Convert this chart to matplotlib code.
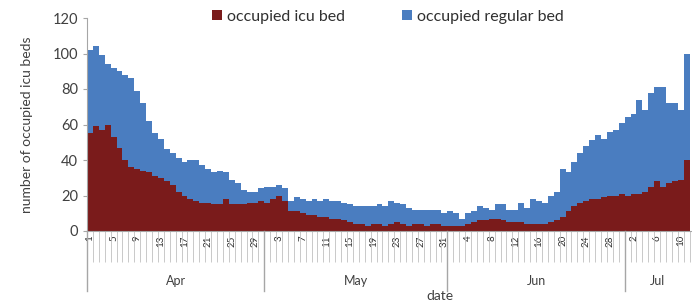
import numpy as np
import pandas as pd
import matplotlib
matplotlib.use('Agg')
import matplotlib.pyplot as plt
import matplotlib.transforms as mtransforms

plt.rcParams['font.family'] = ['Lato', 'DejaVu Sans']

# daily values, 1 Apr -> 11 Jul
dates = pd.date_range('2020-04-01', '2020-07-11', freq='D')

icu = [55, 59, 57, 60, 53, 47, 40, 36, 35, 34, 33, 31, 30, 28, 26, 22, 20, 18, 17, 16,
       16, 15, 15, 18, 15, 15, 15, 16, 16, 17,
       16, 18, 20, 17, 11, 11, 10, 9, 9, 8, 8, 7, 7, 6, 5, 4, 4, 3, 4, 4,
       3, 4, 5, 4, 3, 4, 4, 3, 4, 4, 3,
       3, 3, 3, 4, 5, 6, 6, 7, 7, 6, 5, 5, 5, 4, 4, 4, 4, 5, 6, 8,
       11, 14, 16, 17, 18, 18, 19, 20, 20, 21,
       20, 21, 21, 22, 25, 28, 25, 27, 28, 29, 40]

regular = [47, 45, 42, 34, 39, 43, 48, 50, 44, 38, 29, 24, 22, 18, 18, 19, 19, 22, 23, 21,
           19, 18, 19, 15, 14, 12, 8, 6, 6, 7,
           9, 7, 6, 7, 6, 8, 8, 8, 9, 9, 10, 10, 10, 10, 10, 10, 10, 11, 10, 11,
           11, 13, 11, 11, 10, 8, 8, 9, 8, 8, 7,
           8, 7, 4, 6, 6, 8, 7, 5, 8, 9, 7, 7, 11, 9, 14, 13, 12, 15, 16, 27,
           22, 25, 28, 31, 33, 36, 33, 36, 37, 40,
           44, 45, 53, 46, 53, 53, 56, 45, 44, 39, 60]

months = ['Apr', 'May', 'Jun', 'Jul']
label_every = 4

red = '#7a1b1b'
blue = '#4a7dc0'
grey = '#a6a6a6'

fig = plt.figure(figsize=(6.92, 3.02), dpi=100)
ax = fig.add_axes([87/692, 71/302, 605/692, 213/302])

x = np.arange(len(dates))
ax.bar(x, icu, width=1.0, align='edge', color=red, label='occupied icu bed')
ax.bar(x, regular, width=1.0, align='edge', bottom=icu, color=blue,
       label='occupied regular bed')

ax.set_ylim(0, 120)
ax.set_yticks(range(0, 121, 20))
ax.set_xlim(0, len(dates) + 0.4)
ax.tick_params(axis='y', labelsize=10.5, colors='#404040', length=3, color=grey)

for s in ['top', 'right']:
    ax.spines[s].set_visible(False)
ax.spines['left'].set_color(grey)
ax.spines['bottom'].set_color(grey)

# day labels (every 4th day) and a thin line between each day
day_pos = [i + 0.5 for i in range(0, len(dates), label_every)]
day_lab = [str(dates[i].day) for i in range(0, len(dates), label_every)]
ax.set_xticks(day_pos, day_lab, rotation=90, fontsize=7, color='#303030')
ax.tick_params(axis='x', which='major', length=0, pad=3)
ax.set_xticks(np.arange(0, len(dates) + 1), minor=True)
ax.tick_params(axis='x', which='minor', length=22, width=0.6, color='#c0c0c0')

# month separators and month names
trans = mtransforms.blended_transform_factory(ax.transData, ax.transAxes)
month_idx = pd.Series(dates.month)
for m, name in zip(sorted(month_idx.unique()), months):
    days = np.where(month_idx == m)[0]
    start, end = days[0], days[-1] + 1
    ax.plot([start, start], [0, -0.28], transform=trans, color=grey,
            lw=1, clip_on=False)
    ax.text((start + end) / 2, -0.235, name, transform=trans, ha='center',
            va='center', fontsize=9, color='#404040')

fig.text(27/692, 1 - 125/302, 'number of occupied icu beds', rotation=90,
         ha='center', va='center', fontsize=10, color='#404040')
fig.text(440/692, 6/302, 'date', ha='center', va='center', fontsize=10,
         color='#404040')

fig.legend(loc='center', bbox_to_anchor=(388/692, 285/302), ncol=2,
           frameon=False, fontsize=11.5, handlelength=0.6, handleheight=0.6,
           handletextpad=0.3, columnspacing=3.6, labelcolor='#303030')

fig.savefig('out.png', dpi=100)
